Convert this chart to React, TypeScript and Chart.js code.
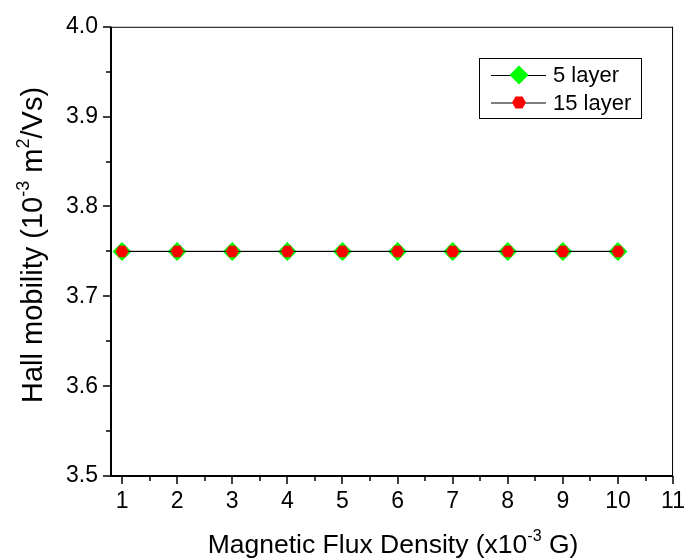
import React, { useEffect, useRef } from 'react';
import { Chart, registerables } from 'chart.js';

Chart.register(...registerables);

// ---- data ----
const X_VALUES = [1, 2, 3, 4, 5, 6, 7, 8, 9, 10];
const Y_5_LAYER = [3.75, 3.75, 3.75, 3.75, 3.75, 3.75, 3.75, 3.75, 3.75, 3.75];
const Y_15_LAYER = [3.75, 3.75, 3.75, 3.75, 3.75, 3.75, 3.75, 3.75, 3.75, 3.75];
const SERIES_LABELS = ['5 layer', '15 layer'];
const X_TICKS = [1, 2, 3, 4, 5, 6, 7, 8, 9, 10, 11];
const X_MINOR = [1.5, 2.5, 3.5, 4.5, 5.5, 6.5, 7.5, 8.5, 9.5, 10.5];
const Y_TICKS = [3.5, 3.6, 3.7, 3.8, 3.9, 4.0];
const Y_MINOR = [3.55, 3.65, 3.75, 3.85, 3.95];
const X_TITLE = [
  { text: 'Magnetic Flux Density (x10' },
  { text: '-3', sup: true },
  { text: ' G)' },
];
const Y_TITLE = [
  { text: 'Hall mobility (10' },
  { text: '-3', sup: true },
  { text: ' m' },
  { text: '2', sup: true },
  { text: '/Vs)' },
];

const FONT = "'Liberation Sans', Arial, Helvetica, sans-serif";
const GREEN = '#00ff00';
const RED = '#ff0000';

function hexPath(ctx: CanvasRenderingContext2D, cx: number, cy: number, r: number) {
  ctx.beginPath();
  for (let i = 0; i < 6; i++) {
    const a = (Math.PI / 3) * i;
    const px = cx + r * Math.cos(a);
    const py = cy + r * Math.sin(a);
    if (i === 0) ctx.moveTo(px, py);
    else ctx.lineTo(px, py);
  }
  ctx.closePath();
}

function makeHexagon(r: number, color: string) {
  const c = document.createElement('canvas');
  const s = Math.ceil(2 * r + 2);
  c.width = s;
  c.height = s;
  const g = c.getContext('2d')!;
  hexPath(g, s / 2, s / 2, r);
  g.fillStyle = color;
  g.fill();
  return c;
}

function diamondPath(ctx: CanvasRenderingContext2D, cx: number, cy: number, r: number) {
  ctx.beginPath();
  ctx.moveTo(cx - r, cy);
  ctx.lineTo(cx, cy - r);
  ctx.lineTo(cx + r, cy);
  ctx.lineTo(cx, cy + r);
  ctx.closePath();
}

type Seg = { text: string; sup?: boolean };

function drawRich(ctx: CanvasRenderingContext2D, segs: Seg[], size: number, cx: number, baseline: number) {
  const supSize = Math.round(size * 0.62);
  let total = 0;
  const widths = segs.map((s) => {
    ctx.font = `${s.sup ? supSize : size}px ${FONT}`;
    const w = ctx.measureText(s.text).width;
    total += w;
    return w;
  });
  let x = cx - total / 2;
  ctx.textAlign = 'left';
  ctx.textBaseline = 'alphabetic';
  segs.forEach((s, i) => {
    ctx.font = `${s.sup ? supSize : size}px ${FONT}`;
    ctx.fillText(s.text, x, s.sup ? baseline - size * 0.45 : baseline);
    x += widths[i];
  });
}

const decorPlugin = {
  id: 'decor',
  afterDraw(chart: any) {
    const { ctx, chartArea: a, scales } = chart;
    const xs = scales.x;
    const ys = scales.y;
    ctx.save();
    ctx.strokeStyle = '#000';
    ctx.fillStyle = '#000';

    // top & right border (thin)
    ctx.lineWidth = 1;
    ctx.beginPath();
    ctx.moveTo(a.left, a.top + 0.5);
    ctx.lineTo(a.right, a.top + 0.5);
    ctx.moveTo(a.right - 0.5, a.top);
    ctx.lineTo(a.right - 0.5, a.bottom);
    ctx.stroke();

    // left & bottom axes
    ctx.lineWidth = 2;
    ctx.beginPath();
    ctx.moveTo(a.left, a.top);
    ctx.lineTo(a.left, a.bottom + 1);
    ctx.moveTo(a.left - 1, a.bottom);
    ctx.lineTo(a.right, a.bottom);
    ctx.stroke();

    // ticks
    ctx.lineWidth = 1.5;
    ctx.beginPath();
    X_TICKS.forEach((v) => {
      const px = Math.round(xs.getPixelForValue(v));
      ctx.moveTo(px, a.bottom);
      ctx.lineTo(px, a.bottom + 8);
    });
    X_MINOR.forEach((v) => {
      const px = Math.round(xs.getPixelForValue(v));
      ctx.moveTo(px, a.bottom);
      ctx.lineTo(px, a.bottom + 5);
    });
    Y_TICKS.forEach((v) => {
      const py = Math.round(ys.getPixelForValue(v));
      ctx.moveTo(a.left, py);
      ctx.lineTo(a.left - 8, py);
    });
    Y_MINOR.forEach((v) => {
      const py = Math.round(ys.getPixelForValue(v));
      ctx.moveTo(a.left, py);
      ctx.lineTo(a.left - 5, py);
    });
    ctx.stroke();

    // axis titles
    drawRich(ctx, X_TITLE, 26.5, (a.left + a.right) / 2 + 1, 553);
    ctx.save();
    ctx.translate(42, 245);
    ctx.rotate(-Math.PI / 2);
    drawRich(ctx, Y_TITLE, 29, 0, 0);
    ctx.restore();

    // legend
    const lx = 479, ly = 58, lw = 162, lh = 60;
    ctx.fillStyle = '#fff';
    ctx.fillRect(lx, ly, lw, lh);
    ctx.lineWidth = 1;
    ctx.strokeStyle = '#000';
    ctx.strokeRect(lx + 0.5, ly + 0.5, lw, lh);
    const rows = [75, 102.5];
    rows.forEach((ry, i) => {
      ctx.lineWidth = 1;
      ctx.strokeStyle = '#000';
      ctx.beginPath();
      ctx.moveTo(491, ry + 0.5);
      ctx.lineTo(546, ry + 0.5);
      ctx.stroke();
      if (i === 0) {
        diamondPath(ctx, 519, ry, 9.5);
        ctx.fillStyle = GREEN;
        ctx.fill();
      } else {
        hexPath(ctx, 519, ry, 7);
        ctx.fillStyle = RED;
        ctx.fill();
      }
      ctx.fillStyle = '#000';
      ctx.font = `22px ${FONT}`;
      ctx.textAlign = 'left';
      ctx.textBaseline = 'middle';
      ctx.fillText(SERIES_LABELS[i], 553, ry + 1);
    });
    ctx.restore();
  },
};

export default function App() {
  const ref = useRef<HTMLCanvasElement | null>(null);

  useEffect(() => {
    document.body.style.margin = '0';
    const canvas = ref.current!;
    const hex = makeHexagon(6.5, RED);
    const chart = new Chart(canvas, {
      type: 'scatter',
      data: {
        datasets: [
          {
            label: SERIES_LABELS[1],
            data: X_VALUES.map((x, i) => ({ x, y: Y_15_LAYER[i] })),
            showLine: true,
            borderColor: '#000',
            borderWidth: 1,
            pointStyle: hex as any,
            pointRadius: 6.5,
            pointBackgroundColor: RED,
            pointBorderColor: RED,
            order: 0,
          },
          {
            label: SERIES_LABELS[0],
            data: X_VALUES.map((x, i) => ({ x, y: Y_5_LAYER[i] })),
            showLine: true,
            borderColor: '#000',
            borderWidth: 1,
            pointStyle: 'rectRot',
            pointRadius: 9.5,
            pointBackgroundColor: GREEN,
            pointBorderColor: GREEN,
            pointBorderWidth: 0,
            order: 1,
          },
        ],
      },
      options: {
        responsive: false,
        animation: false,
        devicePixelRatio: 1,
        layout: { padding: { top: 20, right: 20, left: 0, bottom: 0 } },
        plugins: { legend: { display: false }, tooltip: { enabled: false } },
        scales: {
          x: {
            type: 'linear',
            min: 0.8,
            max: 11,
            afterBuildTicks: (s: any) => {
              s.ticks = X_TICKS.map((v) => ({ value: v }));
            },
            afterFit: (s: any) => {
              s.height = 84;
            },
            grid: { display: false, drawTicks: false },
            border: { display: false },
            ticks: {
              color: '#000',
              font: { family: FONT, size: 23 },
              padding: 12,
              maxRotation: 0,
              autoSkip: false,
              callback: (v: any) => String(v),
            },
          },
          y: {
            type: 'linear',
            min: 3.5,
            max: 4.0,
            afterBuildTicks: (s: any) => {
              s.ticks = Y_TICKS.map((v) => ({ value: v }));
            },
            afterFit: (s: any) => {
              s.width = 111;
            },
            grid: { display: false, drawTicks: false },
            border: { display: false },
            ticks: {
              color: '#000',
              font: { family: FONT, size: 23 },
              padding: 13,
              autoSkip: false,
              callback: (v: any) => Number(v).toFixed(1),
            },
          },
        },
      },
      plugins: [decorPlugin],
    });
    return () => chart.destroy();
  }, []);

  return (
    <div style={{ width: 697, height: 560 }}>
      <canvas ref={ref} width={697} height={560} style={{ display: 'block' }} />
    </div>
  );
}
